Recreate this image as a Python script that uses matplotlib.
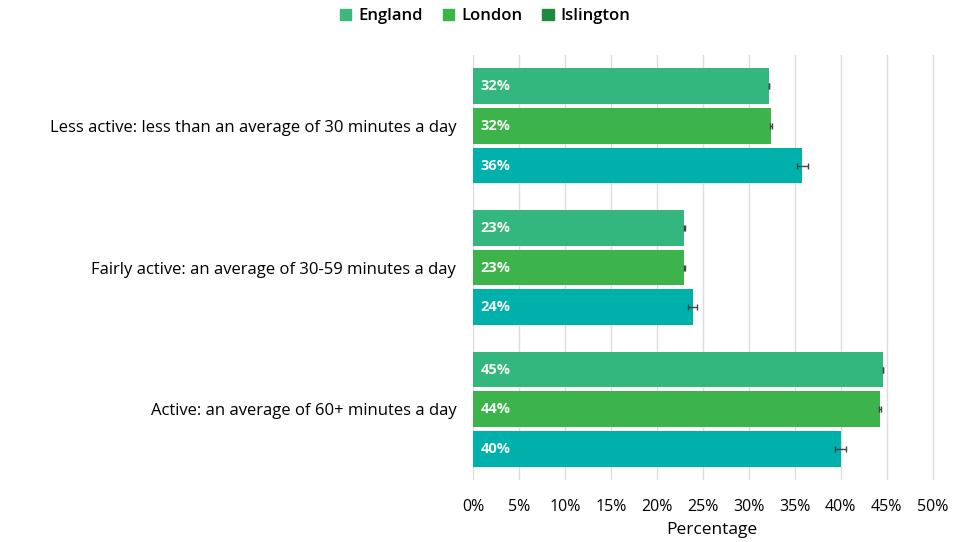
import matplotlib.pyplot as plt
from matplotlib.patches import Patch
import numpy as np

plt.rcParams['font.family'] = ['Open Sans', 'DejaVu Sans']

categories = ['Less active: less than an average of 30 minutes a day',
              'Fairly active: an average of 30-59 minutes a day',
              'Active: an average of 60+ minutes a day']
series = ['England', 'London', 'Islington']
england = [32.2, 23.0, 44.6]
london = [32.4, 23.0, 44.3]
islington = [35.8, 23.9, 40.0]
england_err = [0.05, 0.05, 0.05]
london_err = [0.08, 0.08, 0.08]
islington_err = [0.6, 0.5, 0.6]
labels_england = ['32%', '23%', '45%']
labels_london = ['32%', '23%', '44%']
labels_islington = ['36%', '24%', '40%']

bar_colors = ['#33b77f', '#3cb44b', '#00b0ab']
legend_colors = ['#3cb87a', '#3ab54a', '#1e8a3e']

fig = plt.figure(figsize=(9.7, 5.42), dpi=100)
ax = fig.add_axes([473 / 970, 1 - 480 / 542, 478 / 970, 425 / 542])

y = np.arange(len(categories))
offsets = [-0.28, 0, 0.28]
h = 0.25
data = [england, london, islington]
errs = [england_err, london_err, islington_err]
labs = [labels_england, labels_london, labels_islington]

for i in range(3):
    ax.barh(y + offsets[i], data[i], height=h, color=bar_colors[i],
            xerr=errs[i], error_kw=dict(ecolor='#444444', elinewidth=1, capsize=2, capthick=1),
            zorder=3)
    for j in range(3):
        ax.text(0.8, y[j] + offsets[i], labs[i][j], color='#f4f4f4', fontsize=10.5,
                fontweight='bold', va='center', ha='left', zorder=4)

ax.set_xlim(0, 52)
ax.set_ylim(2.5, -0.5)
ax.set_xticks(np.arange(0, 51, 5))
ax.set_xticklabels([f'{v}%' for v in range(0, 51, 5)], fontsize=11.5)
ax.set_yticks(y)
ax.set_yticklabels(categories, fontsize=12)
ax.tick_params(axis='y', length=0, pad=12)
ax.tick_params(axis='x', length=0, pad=14)
ax.grid(axis='x', color='#dddddd', linewidth=1, zorder=0)
for s in ax.spines.values():
    s.set_visible(False)
ax.set_xlabel('Percentage', fontsize=12.5, labelpad=5)

handles = [Patch(color=c) for c in legend_colors]
fig.legend(handles, series, loc='upper center', bbox_to_anchor=(0.5, 1.012), ncol=3,
           frameon=False, prop={'size': 12, 'weight': 'semibold'},
           handlelength=0.7, handleheight=0.7,
           handletextpad=0.4, columnspacing=1.2)

fig.savefig('out.png', dpi=100)
